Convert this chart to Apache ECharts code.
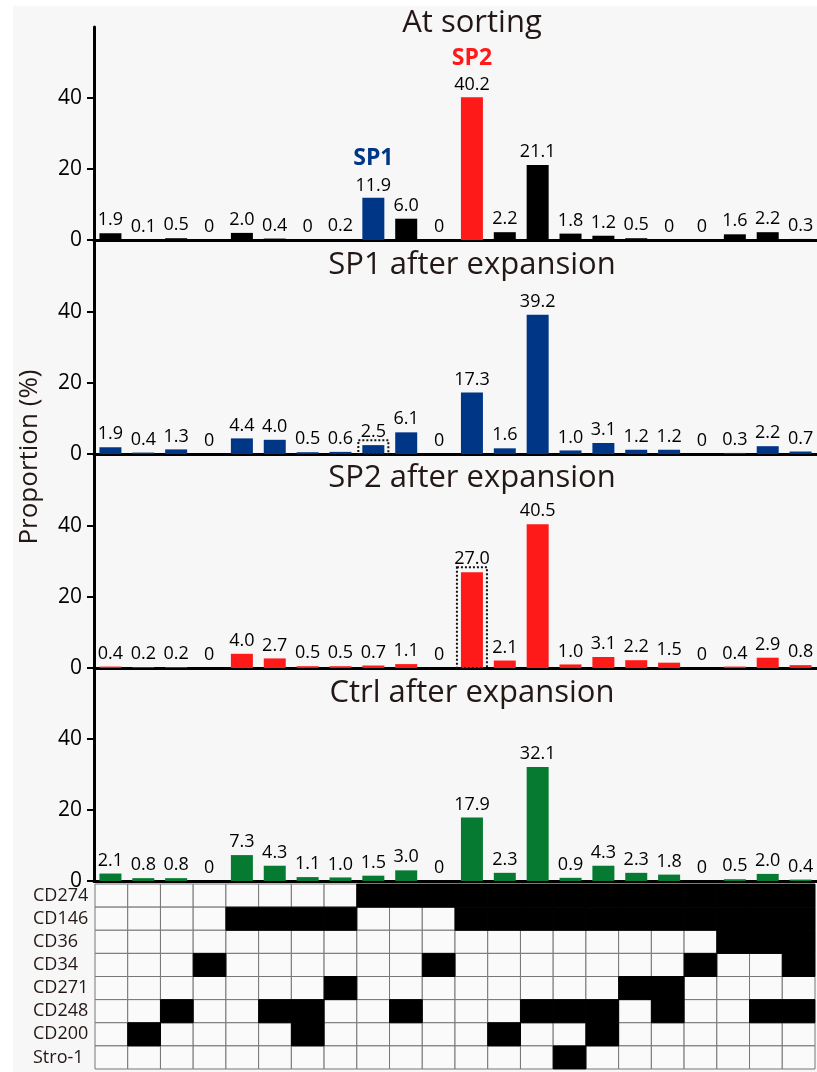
<!DOCTYPE html>
<html>
<head>
<meta charset="utf-8">
<script src="https://cdn.jsdelivr.net/npm/echarts@6/dist/echarts.min.js"></script>
<style>
  html, body { margin: 0; padding: 0; background: #ffffff; }
  #chart { width: 817px; height: 1072px; }
</style>
</head>
<body>
<div id="chart"></div>
<script>
// bar values, one entry per marker combination (22 columns)
var atSorting = [1.9, 0.1, 0.5, 0, 2.0, 0.4, 0, 0.2, 11.9, 6.0, 0, 40.2, 2.2, 21.1, 1.8, 1.2, 0.5, 0, 0, 1.6, 2.2, 0.3];
var sp1After  = [1.9, 0.4, 1.3, 0, 4.4, 4.0, 0.5, 0.6, 2.5, 6.1, 0, 17.3, 1.6, 39.2, 1.0, 3.1, 1.2, 1.2, 0, 0.3, 2.2, 0.7];
var sp2After  = [0.4, 0.2, 0.2, 0, 4.0, 2.7, 0.5, 0.5, 0.7, 1.1, 0, 27.0, 2.1, 40.5, 1.0, 3.1, 2.2, 1.5, 0, 0.4, 2.9, 0.8];
var ctrlAfter = [2.1, 0.8, 0.8, 0, 7.3, 4.3, 1.1, 1.0, 1.5, 3.0, 0, 17.9, 2.3, 32.1, 0.9, 4.3, 2.3, 1.8, 0, 0.5, 2.0, 0.4];

var panelTitles = ['At sorting', 'SP1 after expansion', 'SP2 after expansion', 'Ctrl after expansion'];
var yTicks = [0, 20, 40];

// sorted populations
var sp1Col = 8;
var sp2Col = 11;

// marker table: columns where the marker is positive
var markers = ['CD274', 'CD146', 'CD36', 'CD34', 'CD271', 'CD248', 'CD200', 'Stro-1'];
var cd274 = [8, 9, 10, 11, 12, 13, 14, 15, 16, 17, 18, 19, 20, 21];
var cd146 = [4, 5, 6, 7, 11, 12, 13, 14, 15, 16, 17, 18, 19, 20, 21];
var cd36  = [19, 20, 21];
var cd34  = [3, 10, 18, 21];
var cd271 = [7, 16, 17];
var cd248 = [2, 5, 6, 9, 13, 14, 15, 17, 20, 21];
var cd200 = [1, 6, 12, 15];
var stro1 = [14];
var positives = [cd274, cd146, cd36, cd34, cd271, cd248, cd200, stro1];

var cols = [];
for (var i = 0; i < 22; i++) cols.push(String(i + 1));

var BLACK = '#000000', BLUE = '#003686', RED = '#ff1a1a', GREEN = '#067a30';
var FONT = "'Open Sans', 'Noto Sans', sans-serif";
var tops = [27, 241, 455, 668];
var panelH = 213;

var chart = echarts.init(document.getElementById('chart'));

var grids = [], xAxes = [], yAxes = [], series = [], graphics = [];

graphics.push({
  type: 'rect', z: -10,
  shape: { x: 13, y: 6, width: 804, height: 1066 },
  style: { fill: '#f7f7f7' }
});

function barColor(p, idx) {
  if (p === 0) return idx === sp1Col ? BLUE : (idx === sp2Col ? RED : BLACK);
  if (p === 1) return BLUE;
  if (p === 2) return RED;
  return GREEN;
}

function v2s(v) {
  return v === 0 ? '0' : v.toFixed(1);
}

var panelData = [atSorting, sp1After, sp2After, ctrlAfter];
var boxed = [null, sp1Col, sp2Col, null];

panelData.forEach(function (vals, p) {
  grids.push({ left: 94, right: -6, top: tops[p], height: panelH });
  xAxes.push({
    type: 'category', gridIndex: p, data: cols,
    axisLine: { lineStyle: { color: '#000', width: 3 } },
    axisTick: { show: false }, axisLabel: { show: false }
  });
  yAxes.push({
    type: 'value', gridIndex: p, min: 0, max: 60, interval: 20,
    splitLine: { show: false },
    axisLine: { show: true, lineStyle: { color: '#000', width: 3 } },
    axisTick: { show: true, length: 7, customValues: yTicks, lineStyle: { color: '#000', width: 2 } },
    axisLabel: {
      customValues: yTicks, margin: 12, color: '#000',
      fontSize: 21, fontFamily: FONT
    }
  });
  series.push({
    type: 'bar', xAxisIndex: p, yAxisIndex: p, barWidth: 22,
    data: vals.map(function (v, idx) {
      var item = { value: v, itemStyle: { color: barColor(p, idx) } };
      if (p === 0 && (idx === sp1Col || idx === sp2Col)) {
        item.label = {
          formatter: '{' + (idx === sp1Col ? 'a' : 'b') + '|' + (idx === sp1Col ? 'SP1' : 'SP2') + '}\n{v|' + v2s(v) + '}'
        };
      }
      return item;
    }),
    label: {
      show: true, position: 'top', distance: 4,
      color: '#000', fontSize: 18, fontFamily: FONT,
      formatter: function (prm) { return v2s(prm.value); },
      rich: {
        a: { color: BLUE, fontSize: 23, fontWeight: 'bold', fontFamily: FONT, lineHeight: 38 },
        b: { color: RED, fontSize: 23, fontWeight: 'bold', fontFamily: FONT, lineHeight: 38 },
        v: { color: '#000', fontSize: 18, fontFamily: FONT, lineHeight: 16 }
      }
    }
  });
  if (boxed[p] !== null) {
    series.push({
      type: 'custom', xAxisIndex: p, yAxisIndex: p, z: 5,
      data: [[boxed[p], vals[boxed[p]]]],
      renderItem: function (params, api) {
        var top = api.coord([api.value(0), api.value(1)]);
        var base = api.coord([api.value(0), 0]);
        return {
          type: 'rect',
          shape: { x: top[0] - 15, y: top[1] - 5, width: 30, height: base[1] - top[1] + 5 },
          style: { fill: null, stroke: '#111', lineWidth: 2, lineDash: [2, 2] }
        };
      }
    });
  }
  graphics.push({
    type: 'text', x: 472, y: tops[p] + [-4, 24, 23, 25][p],
    style: {
      text: panelTitles[p], fill: '#231815',
      font: '31px ' + FONT, align: 'center', verticalAlign: 'middle',
      textAlign: 'center', textVerticalAlign: 'middle'
    }
  });
});

// marker table
var tg = 4;
grids.push({ left: 95, width: 720, top: 884, height: 185 });
xAxes.push({ type: 'category', gridIndex: tg, data: cols, show: false });
yAxes.push({
  type: 'category', gridIndex: tg, data: markers, inverse: true,
  axisLine: { show: false }, axisTick: { show: false },
  axisLabel: {
    interval: 0, hideOverlap: false, align: 'left', margin: 62,
    color: '#231815', fontSize: 18, fontFamily: FONT
  }
});
var cellsWhite = [], cellsBlack = [];
markers.forEach(function (m, r) {
  for (var c = 0; c < 22; c++) {
    if (positives[r].indexOf(c) >= 0) cellsBlack.push([c, r, 1]);
    else cellsWhite.push([c, r, 0]);
  }
});
series.push({
  type: 'custom', xAxisIndex: tg, yAxisIndex: tg,
  data: cellsWhite.concat(cellsBlack),
  renderItem: function (params, api) {
    var ctr = api.coord([api.value(0), api.value(1)]);
    var sz = api.size([1, 1]);
    var on = api.value(2) === 1;
    return {
      type: 'rect',
      shape: { x: ctr[0] - sz[0] / 2, y: ctr[1] - sz[1] / 2, width: sz[0], height: sz[1] },
      style: { fill: on ? '#000' : '#fafafa', stroke: on ? '#000' : '#777', lineWidth: 1 }
    };
  }
});

graphics.push({
  type: 'text', x: 30, y: 457, rotation: Math.PI / 2,
  style: {
    text: 'Proportion (%)', fill: '#231815', font: '26px ' + FONT,
    align: 'center', verticalAlign: 'middle', textAlign: 'center', textVerticalAlign: 'middle'
  }
});

chart.setOption({
  animation: false,
  grid: grids,
  xAxis: xAxes,
  yAxis: yAxes,
  series: series,
  graphic: graphics
});
</script>
</body>
</html>
